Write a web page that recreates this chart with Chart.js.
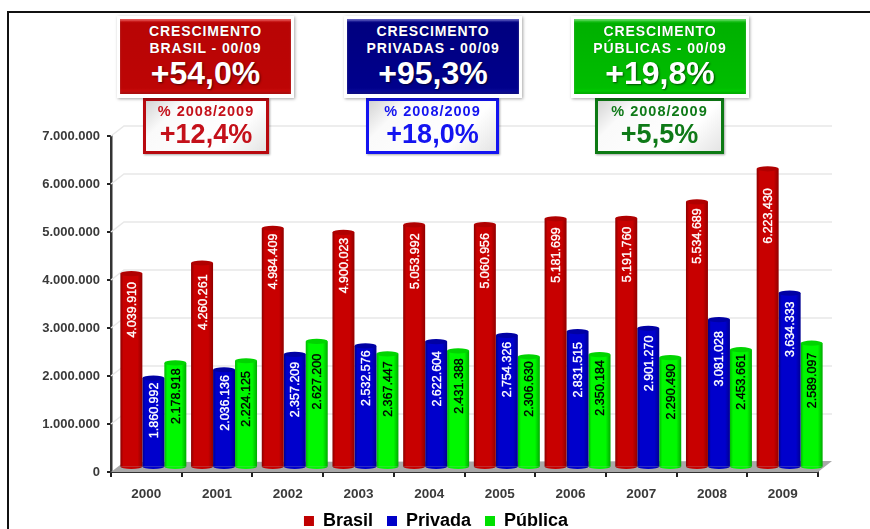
<!DOCTYPE html>
<html lang="pt-BR">
<head>
<meta charset="utf-8">
<title>Crescimento</title>
<script src="https://cdn.jsdelivr.net/npm/chart.js@4/dist/chart.umd.min.js"></script>
<style>
html,body{margin:0;padding:0;width:870px;height:529px;overflow:hidden;background:#fff;font-family:"Liberation Sans",Arial,sans-serif;}
#stage{position:relative;width:870px;height:529px;overflow:hidden;filter:blur(.5px);}
#frame{position:absolute;left:7px;top:11px;width:900px;height:600px;border:2px solid #111;box-sizing:border-box;}
canvas{position:absolute;left:0;top:0;}
.big,.small{position:absolute;box-sizing:border-box;text-align:center;font-weight:bold;}
.big{top:16px;height:82px;width:177px;background:#fff;padding:3px;box-shadow:1px 1px 3px rgba(0,0,0,.35);z-index:3;}
.big .in{height:75px;width:100%;color:#fff;position:relative;box-shadow:inset 0 2px 2px rgba(255,255,255,.3),inset 0 -2px 2px rgba(0,0,0,.18);}
.big .l{position:absolute;left:0;right:0;font-size:14px;line-height:16px;letter-spacing:.9px;text-shadow:0 0 1px rgba(0,0,0,.4);}
.big .l1{top:4px;}.big .l2{top:21px;}
.big .v{position:absolute;left:0;right:0;top:36px;font-size:32px;line-height:36px;text-shadow:1px 1px 2px rgba(0,0,0,.6);}
.small{top:98px;height:56px;border-style:solid;border-width:3px;background:linear-gradient(135deg,#d4d4d4 0,#fafafa 22%,#fff 70%,#e4e4e4 100%);box-shadow:1px 1px 2px rgba(0,0,0,.35);z-index:2;}
.small .t{position:absolute;left:0;right:0;top:2px;font-size:14.5px;line-height:16px;letter-spacing:1px;}
.small .v{position:absolute;left:0;right:0;top:18px;font-size:27px;line-height:30px;}
</style>
</head>
<body>
<div id="stage">
<div id="frame"></div>
<canvas id="c" width="870" height="529"></canvas>
<div class="small" style="left:143px;width:126px;border-color:#b8090f;color:#c4101a"><div class="t">% 2008/2009</div><div class="v">+12,4%</div></div>
<div class="big" style="left:117px"><div class="in" style="background:linear-gradient(180deg,#e01010 0,#b80505 5%,#bd0505 92%,#d01010 100%)"><div class="l l1">CRESCIMENTO</div><div class="l l2">BRASIL - 00/09</div><div class="v">+54,0%</div></div></div>
<div class="small" style="left:366px;width:133px;border-color:#1414f0;color:#1414f0"><div class="t">% 2008/2009</div><div class="v">+18,0%</div></div>
<div class="big" style="left:344px;width:178px"><div class="in" style="background:linear-gradient(180deg,#1a1aa8 0,#00007f 5%,#00008c 92%,#1010a0 100%)"><div class="l l1">CRESCIMENTO</div><div class="l l2">PRIVADAS - 00/09</div><div class="v">+95,3%</div></div></div>
<div class="small" style="left:595px;width:129px;border-color:#0d7a14;color:#0f7a18"><div class="t">% 2008/2009</div><div class="v">+5,5%</div></div>
<div class="big" style="left:571px;width:178px"><div class="in" style="background:linear-gradient(180deg,#22cc22 0,#00b000 6%,#00be00 92%,#00d400 100%)"><div class="l l1">CRESCIMENTO</div><div class="l l2">PÚBLICAS - 00/09</div><div class="v">+19,8%</div></div></div>
</div>
<script>
const categories = ['2000','2001','2002','2003','2004','2005','2006','2007','2008','2009'];
const seriesNames = ['Brasil','Privada','Pública'];
const brasil  = [4039910,4260261,4984409,4900023,5053992,5060956,5181699,5191760,5534689,6223430];
const privada = [1860992,2036136,2357209,2532576,2622604,2754326,2831515,2901270,3081028,3634333];
const publica = [2178918,2224125,2627200,2367447,2431388,2306630,2350184,2290490,2453661,2589097];
const yTicks = [0,1000000,2000000,3000000,4000000,5000000,6000000,7000000];

// label end distance below the cylinder top
const labelInsetBrasil  = [11,14,8,8,11,11,11,11,9,22];
const labelInsetPrivada = [7,8,10,7,12,9,13,10,14,11];
const labelInsetPublica = [8,13,15,10,10,7,8,9,7,12];
const labelInsets = [labelInsetBrasil,labelInsetPrivada,labelInsetPublica];

const palettes = [
  {edgeL:'#8a0000',mid:'#c80000',edgeR:'#900000',top:'#b00000',text:'#ffffff',legend:'#c00000'},
  {edgeL:'#000088',mid:'#0000cc',edgeR:'#000090',top:'#0000a4',text:'#ffffff',legend:'#0000c8'},
  {edgeL:'#00b800',mid:'#00f800',edgeR:'#00aa00',top:'#00d400',text:'#000000',legend:'#00e000'}
];
const SHIFT_X = 7, SHIFT_Y = -4.5, CAP_RY = 2.6;
const CAT_PCT = 0.933;
const fmt = v => String(v).replace(/\B(?=(\d{3})+(?!\d))/g,'.');

function cylGradient(c, left, w, p){
  const g = c.createLinearGradient(left,0,left+w,0);
  g.addColorStop(0,p.edgeL);g.addColorStop(.14,p.mid);g.addColorStop(.78,p.mid);g.addColorStop(1,p.edgeR);
  return g;
}
function barFill(ctx){
  const chart = ctx.chart, sx = chart.scales.x;
  if(ctx.index===undefined || !sx || !sx.width) return palettes[ctx.datasetIndex].legend;
  const band = sx.width/categories.length, group = band*CAT_PCT, w = group/3;
  const left = sx.getPixelForValue(ctx.index) - group/2 + w*ctx.datasetIndex;
  return cylGradient(chart.ctx,left,w,palettes[ctx.datasetIndex]);
}

const wall3d = {
  id:'wall3d',
  afterLayout(chart){
    const lg = chart.legend;
    lg.left = 2; lg.right = 870; lg.top = 498; lg.bottom = 530;
  },
  beforeDatasetsDraw(chart){
    const {ctx, scales:{x,y}} = chart, dx=13, dy=-10;
    const base = y.getPixelForValue(0), L=x.left, R=x.right;
    ctx.save();
    ctx.fillStyle='#a8a8a8';
    ctx.beginPath();ctx.moveTo(L,base);ctx.lineTo(L+dx,base+dy);ctx.lineTo(R+14,base+dy-1);ctx.lineTo(R,base);ctx.closePath();ctx.fill();
    ctx.strokeStyle='#e8e8e8';ctx.lineWidth=1.5;
    yTicks.forEach(t=>{
      if(!t) return;
      const py=y.getPixelForValue(t);
      ctx.beginPath();ctx.moveTo(L,py);ctx.lineTo(L+dx,py+dy);ctx.lineTo(R+14,py+dy);ctx.stroke();
    });
    ctx.restore();
  },
  beforeDatasetDraw(chart){
    chart.ctx.save();
    chart.ctx.translate(SHIFT_X,SHIFT_Y);
  },
  afterDatasetDraw(chart,args){
    const c = chart.ctx, di = args.index, p = palettes[di];
    args.meta.data.forEach(el=>{
      const w = el.width, left = el.x-w/2;
      c.fillStyle = cylGradient(c,left,w,p);
      c.beginPath();c.ellipse(el.x,el.base,w/2,CAP_RY,0,0,Math.PI);c.fill();
      c.fillStyle = p.top;
      c.beginPath();c.ellipse(el.x,el.y,w/2,CAP_RY,0,0,Math.PI*2);c.fill();
    });
    c.restore();
  },
  afterDatasetsDraw(chart){
    const c = chart.ctx;
    c.save();
    c.font='12.5px "Liberation Sans",Arial,sans-serif';
    c.textAlign='right';c.textBaseline='middle';c.lineWidth=.35;
    chart.data.datasets.forEach((ds,di)=>{
      c.fillStyle=c.strokeStyle=palettes[di].text;
      chart.getDatasetMeta(di).data.forEach((el,i)=>{
        c.save();
        c.translate(el.x+SHIFT_X+1, el.y+SHIFT_Y-CAP_RY+labelInsets[di][i]);
        c.rotate(-Math.PI/2);
        c.fillText(fmt(ds.data[i]),0,0);
        c.strokeText(fmt(ds.data[i]),0,0);
        c.restore();
      });
    });
    c.restore();
  }
};

new Chart(document.getElementById('c'),{
  type:'bar',
  data:{
    labels:categories,
    datasets:[brasil,privada,publica].map((d,i)=>({
      label:seriesNames[i],data:d,backgroundColor:barFill,borderWidth:0,clip:false,
      barPercentage:1,categoryPercentage:CAT_PCT
    }))
  },
  plugins:[wall3d],
  options:{
    responsive:false,animation:false,devicePixelRatio:1,
    layout:{padding:{left:8,right:52,top:136,bottom:0}},
    plugins:{
      tooltip:{enabled:false},
      title:{display:false},
      legend:{
        position:'bottom',
        maxHeight:1,
        labels:{
          boxWidth:10,boxHeight:10,padding:14,color:'#2a2a2a',
          font:{family:'"Liberation Sans",Arial,sans-serif',size:18,weight:'bold'},
          generateLabels:()=>seriesNames.map((t,i)=>({text:t,fillStyle:palettes[i].legend,strokeStyle:palettes[i].legend,lineWidth:0,datasetIndex:i}))
        }
      }
    },
    scales:{
      x:{
        afterFit:s=>{s.height=56;},
        grid:{display:true,drawOnChartArea:false,offset:true,color:'#222',lineWidth:2,tickLength:5},
        border:{display:true,color:'#333',width:2},
        ticks:{color:'#3a3a3a',padding:9,maxRotation:0,font:{family:'"Liberation Sans",Arial,sans-serif',size:13.5,weight:'bold'}}
      },
      y:{
        min:0,max:7000000,
        afterFit:s=>{s.width=103;},
        afterBuildTicks:s=>{s.ticks=yTicks.map(v=>({value:v}));},
        grid:{display:true,drawOnChartArea:false,color:'#222',lineWidth:2,tickLength:4},
        border:{display:true,color:'#333',width:2.5},
        ticks:{color:'#3a3a3a',padding:7,callback:v=>fmt(v),font:{family:'"Liberation Sans",Arial,sans-serif',size:13,weight:'bold'}}
      }
    }
  }
});
</script>
</body>
</html>
